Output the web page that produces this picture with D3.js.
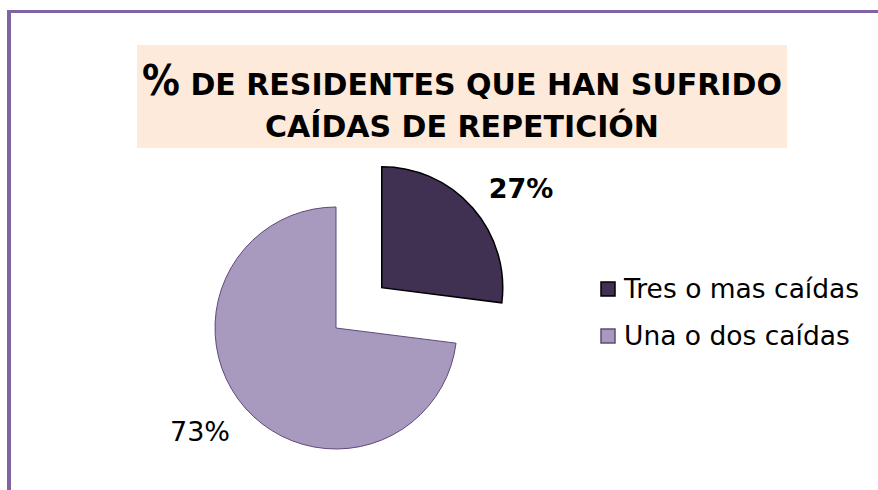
<!DOCTYPE html>
<meta charset="utf-8">
<script src="https://d3js.org/d3.v7.min.js"></script>
<style>
  html, body { margin: 0; background: #fff; overflow: hidden; }
  svg { display: block; }
</style>
<div id="chart"></div>
<script>

// data
var categories = ["Tres o mas caídas", "Una o dos caídas"];
var values = [27, 73];
var labels = ["27%", "73%"];
var colors = ["#403152", "#A899BF"];
var strokes = ["#000000", "#5F497A"];

var width = 878, height = 490;

var svg = d3.select("#chart")
  .append("svg")
    .attr("width", width)
    .attr("height", height);

// frame (only top + left edges show)
svg.append("line")
  .attr("x1", 7).attr("x2", width).attr("y1", 11.5).attr("y2", 11.5)
  .attr("stroke", "#8064A2").attr("stroke-width", 3);
svg.append("line")
  .attr("x1", 9).attr("x2", 9).attr("y1", 10).attr("y2", height)
  .attr("stroke", "#8064A2").attr("stroke-width", 4);

// title box
svg.append("rect")
  .attr("x", 137).attr("y", 45)
  .attr("width", 650).attr("height", 103)
  .attr("fill", "#FDEADA");

var title = svg.append("text")
  .attr("text-anchor", "middle")
  .attr("font-family", "DejaVu Sans, Verdana, sans-serif")
  .attr("font-weight", "bold")
  .attr("fill", "#000");
var t1 = title.append("tspan").attr("x", 462).attr("y", 95);
t1.append("tspan").attr("font-size", "42px").attr("font-family", "DejaVu Sans Condensed, DejaVu Sans").text("%");
t1.append("tspan").attr("font-size", "30px").text(" DE RESIDENTES QUE HAN SUFRIDO");
title.append("tspan").attr("x", 462).attr("y", 137)
  .attr("font-size", "30px")
  .text("CAÍDAS DE REPETICIÓN");

// pie
var cx = 336, cy = 328, r = 121, explode = 61;

var pie = d3.pie().sort(null).value(function(d) { return d; });
var arc = d3.arc().innerRadius(0).outerRadius(r);
var arcs = pie(values);

var g = svg.append("g").attr("transform", "translate(" + cx + "," + cy + ")");

g.selectAll("path")
  .data(arcs)
  .enter()
  .append("path")
    .attr("d", arc)
    .attr("transform", function(d, i) {
      // pull out the small slice
      if (i !== 0) return null;
      var a = (d.startAngle + d.endAngle) / 2;
      return "translate(" + (Math.sin(a) * explode) + "," + (-Math.cos(a) * explode) + ")";
    })
    .attr("fill", function(d, i) { return colors[i]; })
    .attr("stroke", function(d, i) { return strokes[i]; })
    .attr("stroke-width", function(d, i) { return i === 0 ? 1.5 : 1; })
    .attr("stroke-linejoin", "miter");

// data labels
var labelPos = [[521, 198], [200, 441]];
svg.selectAll(".dlabel")
  .data(labels)
  .enter()
  .append("text")
    .attr("class", "dlabel")
    .attr("x", function(d, i) { return labelPos[i][0]; })
    .attr("y", function(d, i) { return labelPos[i][1]; })
    .attr("text-anchor", "middle")
    .attr("font-family", "DejaVu Sans, Verdana, sans-serif")
    .attr("font-size", "27px")
    .attr("font-weight", function(d, i) { return i === 0 ? "bold" : "normal"; })
    .text(function(d) { return d; });

// legend
var legend = svg.selectAll(".legend")
  .data(categories)
  .enter()
  .append("g")
    .attr("class", "legend")
    .attr("transform", function(d, i) { return "translate(601," + (282 + i * 47) + ")"; });

legend.append("rect")
  .attr("width", 14).attr("height", 14)
  .attr("fill", function(d, i) { return colors[i]; })
  .attr("stroke", function(d, i) { return strokes[i]; })
  .attr("stroke-width", 1.5);

legend.append("text")
  .attr("x", 23).attr("y", 16)
  .attr("font-family", "DejaVu Sans, Verdana, sans-serif")
  .attr("font-size", "26.5px")
  .attr("fill", "#000")
  .text(function(d) { return d; });

</script>
